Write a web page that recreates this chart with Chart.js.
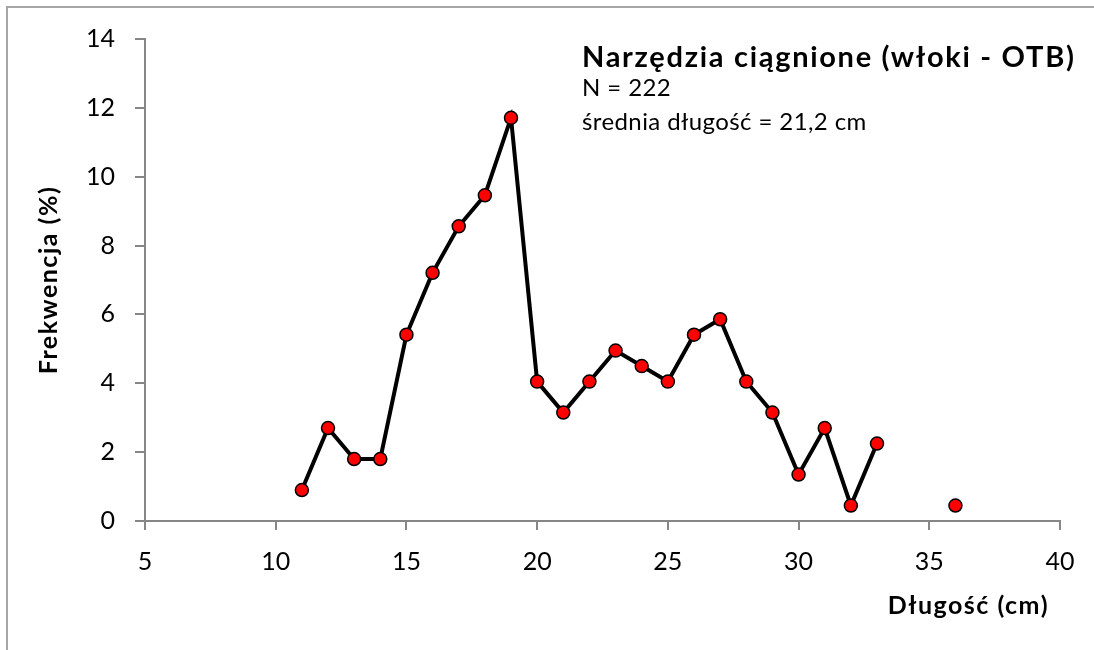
<!DOCTYPE html>
<html>
<head>
<meta charset="utf-8">
<script src="https://cdn.jsdelivr.net/npm/chart.js@4/dist/chart.umd.min.js"></script>
<style>
  html, body { margin: 0; padding: 0; background: #ffffff; }
  #wrap { width: 1094px; height: 650px; position: relative; }
</style>
</head>
<body>
<div id="wrap"><canvas id="c" width="1094" height="650"></canvas></div>
<script>
// Data
const lengths = [11, 12, 13, 14, 15, 16, 17, 18, 19, 20, 21, 22, 23, 24, 25, 26, 27, 28, 29, 30, 31, 32, 33, 34, 35, 36];
const frequency = [0.90, 2.70, 1.80, 1.80, 5.41, 7.21, 8.56, 9.46, 11.71, 4.05, 3.15, 4.05, 4.95, 4.50, 4.05, 5.41, 5.86, 4.05, 3.15, 1.35, 2.70, 0.45, 2.25, null, null, 0.45];
const xTicks = [5, 10, 15, 20, 25, 30, 35, 40];
const yTicks = [0, 2, 4, 6, 8, 10, 12, 14];
const titleText = 'Narzędzia ciągnione (włoki - OTB)';
const infoLines = ['N = 222', 'średnia długość = 21,2 cm'];
const xTitle = 'Długość (cm)';
const yTitle = 'Frekwencja (%)';

const FONT = 'Lato, "Open Sans", sans-serif';

const points = lengths.map((x, i) => ({ x: x, y: frequency[i] }));

const framePlugin = {
  id: 'frame',
  beforeDraw(chart) {
    const ctx = chart.ctx;
    ctx.save();
    ctx.fillStyle = '#ffffff';
    ctx.fillRect(0, 0, chart.width, chart.height);
    ctx.strokeStyle = '#a6a6a6';
    ctx.lineWidth = 2;
    ctx.beginPath();
    ctx.moveTo(7, chart.height);
    ctx.lineTo(7, 7);
    ctx.lineTo(chart.width, 7);
    ctx.stroke();
    ctx.restore();
  },
  afterDraw(chart) {
    const ctx = chart.ctx;
    const area = chart.chartArea;
    ctx.save();
    ctx.fillStyle = '#000000';
    ctx.textAlign = 'left';
    ctx.textBaseline = 'alphabetic';
    ctx.font = 'bold 29px ' + FONT;
    ctx.letterSpacing = '1.7px';
    ctx.fillText(titleText, 582, 67);
    ctx.font = '24px ' + FONT;
    ctx.letterSpacing = '0.4px';
    ctx.fillText(infoLines[0], 582, 96);
    ctx.fillText(infoLines[1], 582, 130);
    // axis titles
    ctx.font = 'bold 25px ' + FONT;
    ctx.letterSpacing = '1.5px';
    ctx.textAlign = 'right';
    ctx.fillText(xTitle, 1049, 614);
    ctx.save();
    ctx.translate(57, (area.top + area.bottom) / 2);
    ctx.rotate(-Math.PI / 2);
    ctx.textAlign = 'center';
    ctx.fillText(yTitle, 0, 0);
    ctx.restore();
    ctx.restore();
  }
};

new Chart(document.getElementById('c'), {
  type: 'line',
  data: {
    datasets: [{
      data: points,
      borderColor: '#000000',
      borderWidth: 4,
      pointRadius: 6.5,
      pointHoverRadius: 6.5,
      pointBackgroundColor: '#ff0000',
      pointBorderColor: '#000000',
      pointBorderWidth: 1.5,
      spanGaps: false,
      tension: 0
    }]
  },
  options: {
    responsive: false,
    animation: false,
    events: [],
    layout: { padding: { left: 0, top: 39, right: 34, bottom: 0 } },
    plugins: { legend: { display: false }, tooltip: { enabled: false } },
    scales: {
      x: {
        type: 'linear',
        min: 5, max: 40,
        afterBuildTicks(axis) { axis.ticks = xTicks.map(v => ({ value: v })); },
        afterFit(axis) { axis.height = 129; },
        border: { display: true, color: '#868686', width: 2 },
        grid: { display: true, drawOnChartArea: false, drawTicks: true, tickLength: 9, color: '#868686', lineWidth: 2 },
        ticks: { color: '#000000', font: { family: FONT, size: 25 }, padding: 17, maxRotation: 0 }
      },
      y: {
        type: 'linear',
        min: 0, max: 14,
        afterBuildTicks(axis) { axis.ticks = yTicks.map(v => ({ value: v })); },
        afterFit(axis) { axis.width = 145; },
        border: { display: true, color: '#868686', width: 2 },
        grid: { display: true, drawOnChartArea: false, drawTicks: true, tickLength: 10, color: '#868686', lineWidth: 2 },
        ticks: { color: '#000000', font: { family: FONT, size: 25 }, padding: 20 }
      }
    }
  },
  plugins: [framePlugin]
});
</script>
</body>
</html>
